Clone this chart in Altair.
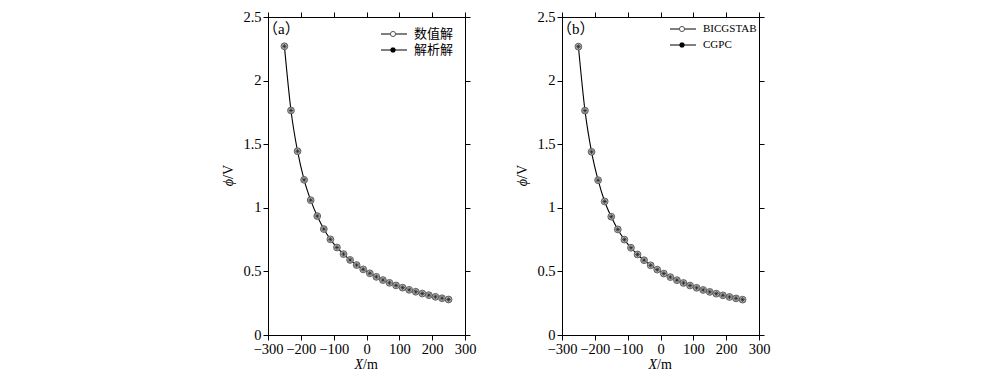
import altair as alt
import pandas as pd

# ---- data ----
x_m = [-250, -230, -210, -190, -170, -150, -130, -110, -90, -70, -50, -30, -10,
       10, 30, 50, 70, 90, 110, 130, 150, 170, 190, 210, 230, 250]
phi_numeric = [2.27, 1.765, 1.445, 1.22, 1.06, 0.935, 0.833, 0.752, 0.688, 0.636,
               0.590, 0.550, 0.516, 0.485, 0.457, 0.432, 0.410, 0.390, 0.372,
               0.355, 0.340, 0.326, 0.313, 0.300, 0.289, 0.279]
phi_analytic = [2.27, 1.765, 1.445, 1.22, 1.06, 0.935, 0.833, 0.752, 0.688, 0.636,
                0.590, 0.550, 0.516, 0.485, 0.457, 0.432, 0.410, 0.390, 0.372,
                0.355, 0.340, 0.326, 0.313, 0.300, 0.289, 0.279]
phi_bicgstab = [2.267, 1.764, 1.44, 1.217, 1.05, 0.93, 0.83, 0.75, 0.686, 0.633,
                0.588, 0.548, 0.514, 0.483, 0.455, 0.431, 0.409, 0.389, 0.371,
                0.354, 0.339, 0.325, 0.312, 0.299, 0.288, 0.278]
phi_cgpc = [2.267, 1.764, 1.44, 1.217, 1.05, 0.93, 0.83, 0.75, 0.686, 0.633,
            0.588, 0.548, 0.514, 0.483, 0.455, 0.431, 0.409, 0.389, 0.371,
            0.354, 0.339, 0.325, 0.312, 0.299, 0.288, 0.278]
x_ticks = [-300, -200, -100, 0, 100, 200, 300]
y_ticks = [0, 0.5, 1, 1.5, 2, 2.5]
legend_a = ["数值解", "解析解"]
legend_b = ["BICGSTAB", "CGPC"]
label_a = "（a）"
label_b = "（b）"

SERIF = "Liberation Serif, Times New Roman, Noto Sans CJK SC"
W, H = 197, 318

STAR = "M-1,0L1,0M0,-1L0,1M-0.7,-0.7L0.7,0.7M-0.7,0.7L0.7,-0.7"


def legend_marks(names, lx, ly, fs):
    """Legend drawn as a small layer: line sample, marker and label per entry."""
    one = alt.Chart(pd.DataFrame({"k": [0]}))
    marks = []
    for i, name in enumerate(names):
        y = ly + 16 * i
        marks.append(one.mark_rule(color="black", strokeWidth=1).encode(
            x=alt.value(lx), x2=alt.value(lx + 26), y=alt.value(y)))
        if i == 0:
            marks.append(one.mark_point(shape="circle", filled=True, fill="white",
                                        stroke="#555555", strokeWidth=1, size=26,
                                        opacity=1).encode(
                x=alt.value(lx + 12), y=alt.value(y)))
        else:
            marks.append(one.mark_point(shape=STAR, filled=False, stroke="black",
                                        strokeWidth=1.4, size=30, opacity=1).encode(
                x=alt.value(lx + 12), y=alt.value(y)))
        marks.append(one.mark_text(text=name, font=SERIF, fontSize=fs, align="left",
                                   baseline="middle", color="black").encode(
            x=alt.value(lx + 33), y=alt.value(y)))
    return marks


def panel(ys_circle, ys_star, names, label, lx, ly, fs):
    df = pd.DataFrame({"x": x_m, "phi": ys_circle, "phi2": ys_star})
    base = alt.Chart(df)
    xs = alt.Scale(domain=[-300, 300], nice=False, zero=False)
    ys = alt.Scale(domain=[0, 2.5], nice=False, zero=False)

    line = base.mark_line(color="black", strokeWidth=1.1, interpolate="monotone").encode(
        x=alt.X("x:Q", scale=xs, axis=alt.Axis(values=x_ticks, format="d", title=None,
                                              labelOverlap=False, labelFlush=False)),
        y=alt.Y("phi:Q", scale=ys, axis=alt.Axis(values=y_ticks, format="~g", title=None,
                                                labelOverlap=False, labelFlush=False)),
    )
    frame = base.mark_line(opacity=0).encode(
        x=alt.X("x:Q", scale=xs, axis=alt.Axis(orient="top", values=x_ticks, labels=False,
                                              domain=False, title=None)),
        y=alt.Y("phi:Q", scale=ys, axis=alt.Axis(orient="right", values=y_ticks, labels=False,
                                                domain=False, title=None)),
    )
    circles = base.mark_point(shape="circle", filled=True, fill="#b4b4b4", stroke="#555555",
                              strokeWidth=0.9, size=46, opacity=1).encode(
        x=alt.X("x:Q", scale=xs, axis=None),
        y=alt.Y("phi:Q", scale=ys, axis=None),
    )
    stars = base.mark_point(shape=STAR, filled=False, stroke="#222222", strokeWidth=0.7,
                            size=22, opacity=1).encode(
        x=alt.X("x:Q", scale=xs, axis=None),
        y=alt.Y("phi2:Q", scale=ys, axis=None),
    )
    one = alt.Chart(pd.DataFrame({"k": [0]}))
    plab = one.mark_text(text=label, font=SERIF, fontSize=15, align="left",
                         baseline="middle", color="black").encode(
        x=alt.value(-5), y=alt.value(12))
    yt1 = one.mark_text(text="ϕ", font=SERIF, fontSize=14, fontStyle="italic", angle=270,
                        align="right", baseline="middle", color="black").encode(
        x=alt.value(-39), y=alt.value(162))
    yt2 = one.mark_text(text="/V", font=SERIF, fontSize=14, angle=270,
                        align="left", baseline="middle", color="black").encode(
        x=alt.value(-39), y=alt.value(162))
    xt1 = one.mark_text(text="X", font=SERIF, fontSize=14, fontStyle="italic",
                        align="right", baseline="middle", color="black").encode(
        x=alt.value(95), y=alt.value(348))
    xt2 = one.mark_text(text="/m", font=SERIF, fontSize=14,
                        align="left", baseline="middle", color="black").encode(
        x=alt.value(95), y=alt.value(348))

    layers = [line, frame, circles, stars, plab, yt1, yt2, xt1, xt2] + legend_marks(names, lx, ly, fs)
    return alt.layer(*layers).properties(width=W, height=H).resolve_axis(
        x="independent", y="independent")


pa = panel(phi_numeric, phi_analytic, legend_a, label_a, 113, 17, 13)
pb = panel(phi_bicgstab, phi_cgpc, legend_b, label_b, 108, 12, 11)

chart = alt.hconcat(pa, pb, spacing=97, bounds="flush").properties(
    padding={"left": 213, "top": 0, "right": 5, "bottom": 5},
    background="white",
).configure_view(stroke="black", strokeWidth=1).configure_axis(
    domainColor="black", tickColor="black", tickSize=5, labelFont=SERIF,
    labelFontSize=14.5, labelColor="black", grid=False, labelPadding=2, domainWidth=1,
    tickWidth=1,
)

chart.save("out.html", embed_options={"renderer": "svg", "actions": False})
